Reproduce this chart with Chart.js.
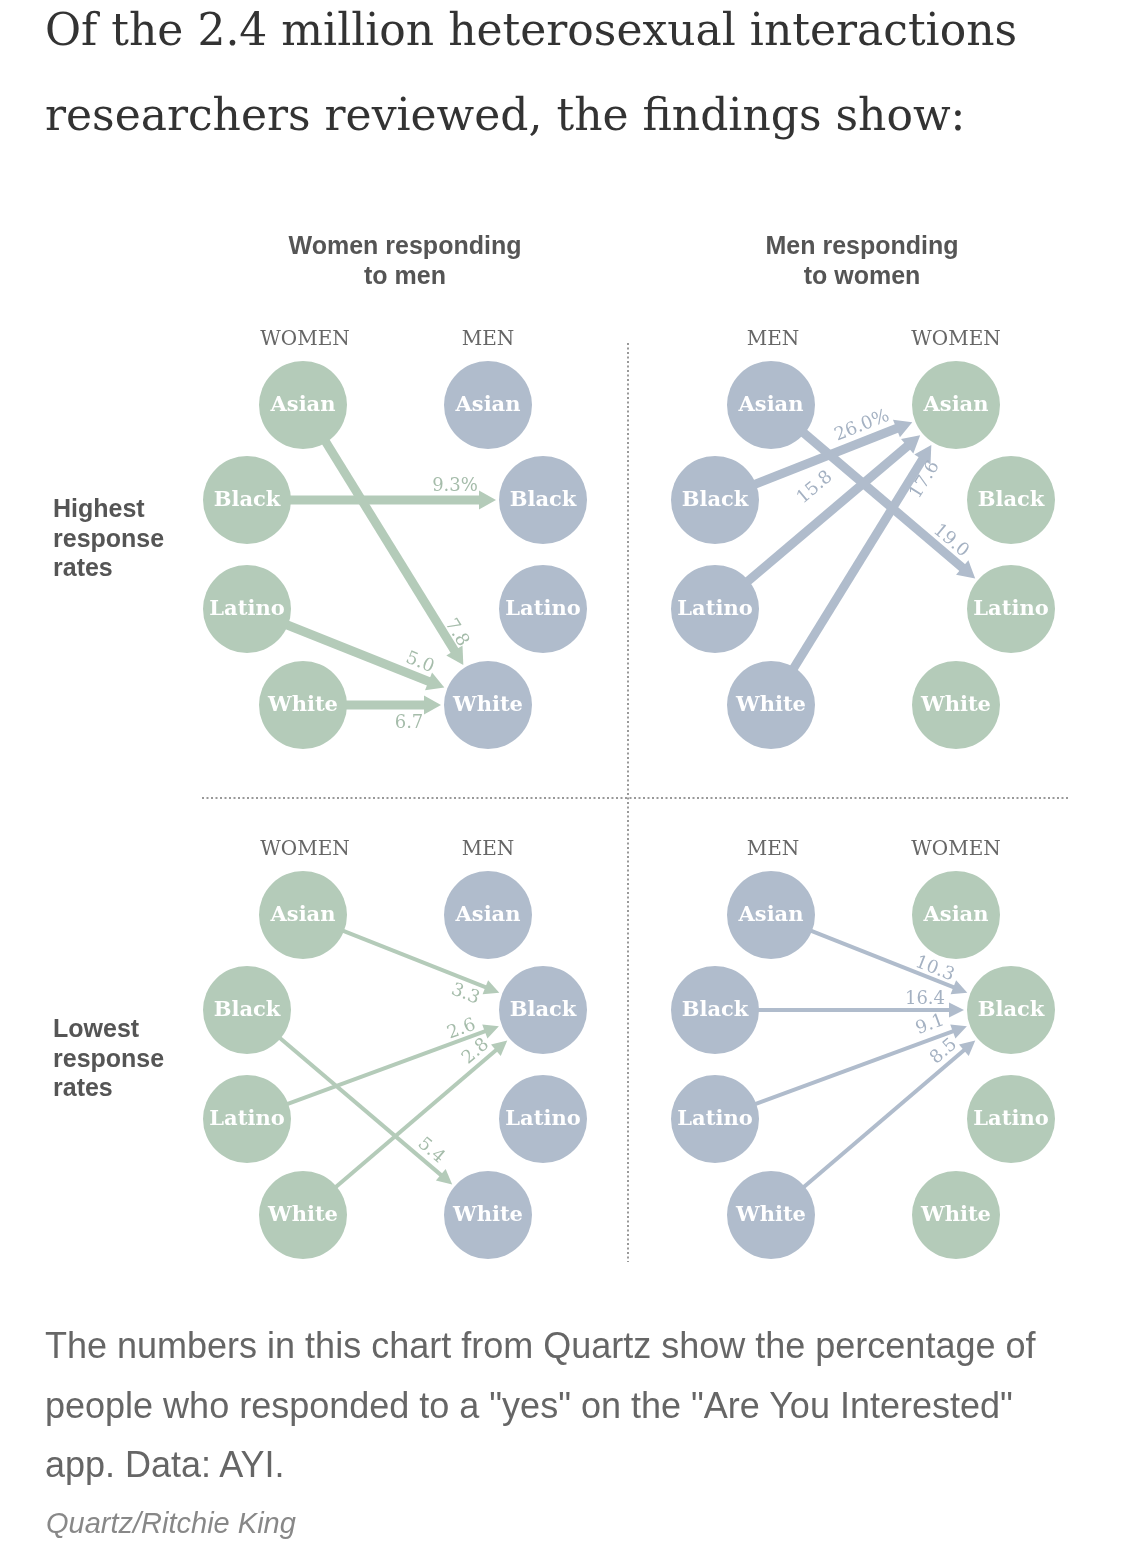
<!DOCTYPE html>
<html>
<head>
<meta charset="utf-8">
<title>Response rates by race</title>
<script src="https://cdn.jsdelivr.net/npm/chart.js@4.4.1/dist/chart.umd.min.js"></script>
<style>
  html, body { margin: 0; padding: 0; background: #fff; }
  body { width: 1125px; height: 1545px; position: relative; overflow: hidden; }
  #chart-wrap { position: absolute; left: 0; top: 0; width: 1125px; height: 1545px; }
  .headline {
    position: absolute; left: 45px; top: -13px;
    font: 44px "DejaVu Serif", serif; line-height: 85px;
    color: #333; white-space: nowrap;
  }
  .caption {
    position: absolute; left: 45px; top: 1316px;
    font: 36px "Liberation Sans", Arial, sans-serif; line-height: 59.5px;
    color: #666; white-space: nowrap;
  }
  .credit {
    position: absolute; left: 46px; top: 1506px;
    font: italic 29px "Liberation Sans", Arial, sans-serif; line-height: 34px;
    color: #888; white-space: nowrap;
  }
</style>
</head>
<body>
<div id="chart-wrap"><canvas id="flowChart"></canvas></div>
<div class="headline">Of the 2.4 million heterosexual interactions<br>researchers reviewed, the findings show:</div>
<div class="caption">The numbers in this chart from Quartz show the percentage of<br>people who responded to a "yes" on the "Are You Interested"<br>app. Data: AYI.</div>
<div class="credit">Quartz/Ritchie King</div>

<script>
// Data
const groups = ['Asian', 'Black', 'Latino', 'White'];
const panelTitles = [['Women responding', 'to men'], ['Men responding', 'to women']];
const rowTitles = [['Highest', 'response', 'rates'], ['Lowest', 'response', 'rates']];

// each arrow starts at groups[i] on the left side of its panel
const highWomenTo = ['White', 'Black', 'White', 'White'];
const highWomenRate = [7.8, 9.3, 5.0, 6.7];
const highMenTo = ['Latino', 'Asian', 'Asian', 'Asian'];
const highMenRate = [19.0, 26.0, 15.8, 17.6];
const lowWomenTo = ['Black', 'White', 'Black', 'Black'];
const lowWomenRate = [3.3, 5.4, 2.6, 2.8];
const lowMenTo = ['Black', 'Black', 'Black', 'Black'];
const lowMenRate = [10.3, 16.4, 9.1, 8.5];

// Layout
const GREEN = '#b4cbb9', BLUE = '#b0bccc';
const GREEN_TXT = '#a5bcaa', BLUE_TXT = '#a4b1c2';
const R = 44;
const panelX = [0, 468], panelY = [0, 510];
const leftColX = [303, 247, 247, 303], rightColX = [488, 543, 543, 488];
const slotY = [405, 500, 609, 705];

const panels = [
  { to: highWomenTo, rate: highWomenRate, left: 'WOMEN', right: 'MEN', pct: 1, thick: true,
    back: [31, 41, 32, 32], off: [11, 14, 14, -18] },
  { to: highMenTo, rate: highMenRate, left: 'MEN', right: 'WOMEN', pct: 1, thick: true,
    back: [43, 48, 114, 33], off: [13, 15, 28, -13] },
  { to: lowWomenTo, rate: lowWomenRate, left: 'WOMEN', right: 'MEN', pct: -1, thick: false,
    back: [31, 38, 36, 31], off: [-14, 12, 10, 12] },
  { to: lowMenTo, rate: lowMenRate, left: 'MEN', right: 'WOMEN', pct: -1, thick: false,
    back: [39, 39, 34, 31], off: [10, 11, 14, 12] }
];

function nodePos(p, side, gi) {
  return {
    x: panelX[p % 2] + (side ? rightColX[gi] : leftColX[gi]),
    y: panelY[Math.floor(p / 2)] + slotY[gi]
  };
}
function sideColor(label) { return label === 'WOMEN' ? GREEN : BLUE; }

const datasets = [];

// circles
panels.forEach((pn, p) => {
  const pts = [], cols = [];
  groups.forEach((g, gi) => {
    pts.push(Object.assign(nodePos(p, 0, gi), { name: g })); cols.push(sideColor(pn.left));
  });
  groups.forEach((g, gi) => {
    pts.push(Object.assign(nodePos(p, 1, gi), { name: g })); cols.push(sideColor(pn.right));
  });
  datasets.push({
    kind: 'nodes', data: pts, pointRadius: R, pointHoverRadius: R,
    pointBackgroundColor: cols, pointBorderWidth: 0, showLine: false, order: 0
  });
});

// arrows
panels.forEach((pn, p) => {
  const col = sideColor(pn.left);
  const head = pn.thick ? 17 : 15;
  groups.forEach((g, gi) => {
    const a = nodePos(p, 0, gi);
    const b = nodePos(p, 1, groups.indexOf(pn.to[gi]));
    const dx = b.x - a.x, dy = b.y - a.y, L = Math.hypot(dx, dy);
    const ux = dx / L, uy = dy / L;
    const s = R - 2, e = L - R - 3 - head + 2;
    datasets.push({
      kind: 'arrow', showLine: true,
      data: [{ x: a.x + ux * s, y: a.y + uy * s }, { x: a.x + ux * e, y: a.y + uy * e }],
      borderColor: col, borderWidth: pn.thick ? 9 : 4, borderCapStyle: 'butt',
      pointRadius: 0, order: 1,
      head: head, headHalf: pn.thick ? 9.5 : 7.5,
      labelText: pn.rate[gi].toFixed(1) + (gi === pn.pct ? '%' : ''),
      labelColor: col === GREEN ? GREEN_TXT : BLUE_TXT,
      labelBack: pn.back[gi], labelOff: pn.off[gi]
    });
  });
});

// arrowheads and rate labels
const arrowDecor = {
  id: 'arrowDecor',
  afterDatasetsDraw(chart) {
    const c = chart.ctx;
    chart.data.datasets.forEach((ds, i) => {
      if (ds.kind !== 'arrow') return;
      const pts = chart.getDatasetMeta(i).data;
      const p0 = pts[0], p1 = pts[1];
      const L = Math.hypot(p1.x - p0.x, p1.y - p0.y);
      const ux = (p1.x - p0.x) / L, uy = (p1.y - p0.y) / L;
      const tx = p1.x + ux * (ds.head - 2), ty = p1.y + uy * (ds.head - 2);
      const bx = tx - ux * ds.head, by = ty - uy * ds.head;
      c.save();
      c.fillStyle = ds.borderColor;
      c.beginPath();
      c.moveTo(tx, ty);
      c.lineTo(bx - uy * ds.headHalf, by + ux * ds.headHalf);
      c.lineTo(bx + uy * ds.headHalf, by - ux * ds.headHalf);
      c.closePath();
      c.fill();
      // label, above (+) or below (-) the arrow in its own frame
      const lx = tx - ux * ds.labelBack + uy * ds.labelOff;
      const ly = ty - uy * ds.labelBack - ux * ds.labelOff;
      c.translate(lx, ly);
      c.rotate(Math.atan2(uy, ux));
      c.fillStyle = ds.labelColor;
      c.font = '18px "DejaVu Serif", serif';
      c.textAlign = 'center';
      c.textBaseline = 'middle';
      c.fillText(ds.labelText, 0, 0);
      c.restore();
    });
  }
};

// circle names, headers, titles, dotted dividers
const panelDecor = {
  id: 'panelDecor',
  beforeDatasetsDraw(chart) {
    const c = chart.ctx, xs = chart.scales.x, ys = chart.scales.y;
    c.save();
    c.strokeStyle = '#999';
    c.lineWidth = 2;
    c.setLineDash([2, 2.5]);
    c.beginPath();
    c.moveTo(xs.getPixelForValue(628), ys.getPixelForValue(343));
    c.lineTo(xs.getPixelForValue(628), ys.getPixelForValue(1262));
    c.moveTo(xs.getPixelForValue(202), ys.getPixelForValue(798));
    c.lineTo(xs.getPixelForValue(1070), ys.getPixelForValue(798));
    c.stroke();
    c.restore();
  },
  afterDraw(chart) {
    const c = chart.ctx, xs = chart.scales.x, ys = chart.scales.y;
    c.save();
    c.fillStyle = '#555';
    c.font = 'bold 25px "Liberation Sans", Arial, sans-serif';
    c.textAlign = 'center';
    c.textBaseline = 'alphabetic';
    [405, 862].forEach((x, k) => {
      panelTitles[k].forEach((t, j) => c.fillText(t, xs.getPixelForValue(x), ys.getPixelForValue(254 + j * 30)));
    });
    c.textAlign = 'left';
    rowTitles.forEach((lines, r) => {
      lines.forEach((t, j) => c.fillText(t, xs.getPixelForValue(53), ys.getPixelForValue(517 + panelY[r] + 10 * r + j * 29.5)));
    });
    // column headers
    c.textAlign = 'center';
    c.fillStyle = '#666';
    c.font = '20px "DejaVu Serif", serif';
    panels.forEach((pn, p) => {
      const yy = ys.getPixelForValue(panelY[Math.floor(p / 2)] + 345);
      c.fillText(pn.left, xs.getPixelForValue(panelX[p % 2] + leftColX[0] + 2), yy);
      c.fillText(pn.right, xs.getPixelForValue(panelX[p % 2] + rightColX[0]), yy);
    });
    // circle names
    c.fillStyle = '#fff';
    c.font = 'bold 21px "DejaVu Serif", serif';
    c.textBaseline = 'middle';
    chart.data.datasets.forEach((ds, i) => {
      if (ds.kind !== 'nodes') return;
      chart.getDatasetMeta(i).data.forEach((pt, k) => c.fillText(ds.data[k].name, pt.x, pt.y + 1));
    });
    c.restore();
  }
};

const ctx = document.getElementById('flowChart').getContext('2d');
const flowChart = new Chart(ctx, {
  type: 'scatter',
  data: { datasets: datasets },
  options: {
    responsive: true,
    maintainAspectRatio: false,
    animation: false,
    events: [],
    layout: { padding: 0, autoPadding: false },
    plugins: { legend: { display: false }, tooltip: { enabled: false } },
    scales: {
      x: { type: 'linear', min: 0, max: 1125, display: false },
      y: { type: 'linear', min: 0, max: 1545, reverse: true, display: false }
    }
  },
  plugins: [panelDecor, arrowDecor]
});
</script>
</body>
</html>
